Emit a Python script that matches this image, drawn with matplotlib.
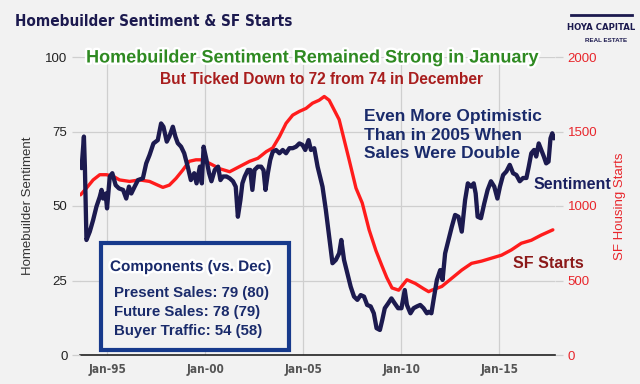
import matplotlib.pyplot as plt
import matplotlib.patheffects as pe
from matplotlib.patches import Rectangle

# Homebuilder sentiment (NAHB index)
sent_year = [1993.68, 1993.80, 1993.85, 1993.93, 1994.10, 1994.27, 1994.44, 1994.61, 1994.70, 1994.78,
             1994.91, 1994.98, 1995.12, 1995.25, 1995.42, 1995.59, 1995.80, 1995.96, 1996.10, 1996.22,
             1996.39, 1996.56, 1996.81, 1996.98, 1997.15, 1997.35, 1997.57, 1997.74, 1997.86, 1998.03,
             1998.16, 1998.34, 1998.47, 1998.59, 1998.76, 1998.92, 1999.10, 1999.26, 1999.43, 1999.55,
             1999.72, 1999.82, 1999.91, 2000.06, 2000.19, 2000.31, 2000.48, 2000.65, 2000.77, 2000.90,
             2001.08, 2001.24, 2001.41, 2001.55, 2001.66, 2001.79, 2001.89, 2002.01, 2002.17, 2002.29,
             2002.40, 2002.51, 2002.68, 2002.85, 2002.97, 2003.07, 2003.19, 2003.31, 2003.44, 2003.61,
             2003.78, 2003.95, 2004.12, 2004.29, 2004.46, 2004.63, 2004.80, 2004.96, 2005.10, 2005.27,
             2005.39, 2005.56, 2005.73, 2005.90, 2005.98, 2006.15, 2006.32, 2006.49, 2006.66, 2006.83,
             2006.94, 2007.08, 2007.25, 2007.42, 2007.59, 2007.76, 2007.93, 2008.10, 2008.26, 2008.44,
             2008.60, 2008.74, 2008.91, 2009.03, 2009.16, 2009.33, 2009.50, 2009.67, 2009.84, 2010.01,
             2010.18, 2010.29, 2010.47, 2010.63, 2010.80, 2010.97, 2011.14, 2011.31, 2011.40, 2011.54,
             2011.65, 2011.82, 2011.99, 2012.11, 2012.24, 2012.41, 2012.58, 2012.75, 2012.92, 2013.09,
             2013.26, 2013.40, 2013.57, 2013.70, 2013.80, 2013.90, 2014.07, 2014.24, 2014.41, 2014.58,
             2014.75, 2014.91, 2015.04, 2015.20, 2015.37, 2015.54, 2015.71, 2015.88, 2016.05, 2016.22,
             2016.39, 2016.51, 2016.64, 2016.78, 2016.89, 2017.02, 2017.15, 2017.28, 2017.40, 2017.52,
             2017.62, 2017.71, 2017.79]
sentiment = [62.7, 73.3, 63.0, 38.6, 41.4, 45.3, 49.8, 53.1, 55.4, 52.5,
             54.2, 49.2, 59.9, 61.0, 57.0, 55.9, 55.4, 52.5, 56.5, 54.2,
             56.5, 58.7, 59.3, 64.3, 67.1, 71.0, 72.1, 77.7, 76.6, 71.6,
             73.3, 76.6, 73.3, 71.1, 69.9, 67.7, 63.2, 58.7, 61.0, 57.6,
             63.2, 57.6, 69.9, 65.4, 61.0, 58.3, 62.1, 63.2, 58.7, 59.9,
             59.9, 59.3, 58.3, 56.5, 46.4, 52.0, 57.6, 59.9, 62.1, 62.1,
             55.4, 62.1, 63.2, 63.2, 62.0, 55.4, 61.0, 65.4, 68.2, 68.8,
             67.7, 68.8, 67.7, 69.4, 69.4, 69.9, 71.0, 70.5, 68.8, 72.1,
             68.8, 69.4, 63.2, 58.7, 56.5, 48.7, 39.7, 30.8, 31.9, 34.1,
             38.6, 31.9, 27.4, 22.9, 19.6, 18.5, 20.1, 19.6, 16.8, 16.3,
             14.0, 9.0, 8.4, 11.7, 15.7, 17.3, 19.0, 17.3, 15.7, 15.7,
             21.8, 16.8, 14.0, 15.7, 16.3, 16.8, 15.7, 14.0, 14.5, 14.0,
             18.5, 25.2, 28.5, 25.2, 34.1, 38.6, 43.0, 47.0, 46.4, 41.4,
             52.0, 57.6, 56.5, 57.6, 54.2, 46.4, 45.9, 50.9, 55.4, 58.3,
             56.5, 52.5, 56.5, 60.4, 61.6, 63.8, 61.0, 60.4, 58.3, 59.4,
             59.4, 63.2, 67.7, 68.8, 66.6, 71.0, 68.8, 66.6, 64.3, 64.9,
             72.7, 74.4, 72.7]

# Single-family housing starts (thousands, annualized, smoothed)
starts_year = [1993.63, 1993.93, 1994.27, 1994.61, 1994.95, 1995.29, 1995.62, 1996.13, 1996.64, 1997.15,
               1997.57, 1997.83, 1998.16, 1998.50, 1998.84, 1999.18, 1999.52, 1999.86, 2000.23, 2000.74,
               2001.24, 2001.75, 2002.26, 2002.68, 2003.11, 2003.44, 2003.78, 2004.12, 2004.46, 2004.80,
               2005.14, 2005.47, 2005.81, 2006.07, 2006.32, 2006.83, 2007.34, 2007.69, 2008.01, 2008.36,
               2008.71, 2009.01, 2009.26, 2009.53, 2009.87, 2010.29, 2010.72, 2011.14, 2011.40, 2011.56,
               2012.07, 2012.58, 2013.09, 2013.59, 2014.10, 2014.61, 2015.12, 2015.62, 2016.13, 2016.64,
               2017.15, 2017.74]
starts = [1075, 1120, 1175, 1210, 1210, 1200, 1175, 1165, 1175, 1165,
          1140, 1125, 1140, 1185, 1240, 1300, 1310, 1310, 1285, 1250,
          1230, 1265, 1300, 1320, 1365, 1390, 1465, 1555, 1610, 1635,
          1655, 1690, 1710, 1735, 1710, 1580, 1310, 1120, 1020, 840,
          700, 600, 520, 450, 435, 505, 480, 445, 425, 435,
          460, 515, 570, 615, 630, 650, 670, 705, 750, 770,
          805, 840]

year_ticks = [1995, 2000, 2005, 2010, 2015]
year_labels = ['Jan-95', 'Jan-00', 'Jan-05', 'Jan-10', 'Jan-15']
components = ['Present Sales: 79 (80)', 'Future Sales: 78 (79)', 'Buyer Traffic: 54 (58)']

NAVY = '#1c1a4f'
RED = '#ff1c1c'
BG = '#f2f2f2'
SANS = ['Liberation Sans', 'DejaVu Sans']
plt.rcParams['font.family'] = SANS

fig = plt.figure(figsize=(6.4, 3.84), dpi=100, facecolor=BG)
ax2 = fig.add_axes([80 / 640, 1 - 355 / 384, 475 / 640, 298 / 384])
ax2.set_facecolor(BG)
ax = ax2.twinx()
# sentiment axis in front, on the left
ax.yaxis.tick_left()
ax.yaxis.set_label_position('left')
ax2.yaxis.tick_right()
ax2.yaxis.set_label_position('right')
ax.set_zorder(ax2.get_zorder() + 1)
ax.patch.set_visible(False)

ax2.plot(starts_year, starts, color=RED, lw=2.4, solid_capstyle='round')
ax.plot(sent_year, sentiment, color=NAVY, lw=3.1, solid_joinstyle='round', solid_capstyle='round')

ax.set_xlim(1993.6, 2017.85)
ax.set_ylim(0, 100)
ax2.set_ylim(0, 2000)
ax.set_yticks([0, 25, 50, 75, 100])
ax2.set_yticks([0, 500, 1000, 1500, 2000])
ax2.set_xticks(year_ticks)
ax2.set_xticklabels(year_labels, fontweight='bold', color='#555555', fontsize=8.5,
                    family='DejaVu Sans', fontstretch='condensed')
ax2.grid(True, color='#cfcfcf', lw=0.9)
ax2.set_axisbelow(True)

for a in (ax, ax2):
    for s in ('left', 'right', 'top'):
        a.spines[s].set_visible(False)
ax.spines['bottom'].set_visible(False)
ax2.spines['bottom'].set_color('#222222')
ax2.spines['bottom'].set_linewidth(1.2)

ax.tick_params(axis='y', length=6, width=0.9, color='#cfcfcf', labelsize=9.5, labelcolor='#222222', pad=3)
ax2.tick_params(axis='y', length=6, width=0.9, color='#cfcfcf', labelsize=9.5, labelcolor='#e8262c', pad=3)
ax2.tick_params(axis='x', length=0, pad=6)

ax.set_ylabel('Homebuilder Sentiment', fontsize=9.5, color='#333333', labelpad=8)
ax2.set_ylabel('SF Housing Starts', fontsize=9.5, color='#e8262c', labelpad=12)

# titles
fig.text(15 / 640, 1 - 22 / 384, 'Homebuilder Sentiment & SF Starts', fontsize=11, fontweight='bold',
         color=NAVY, family='DejaVu Sans', fontstretch='condensed', va='center', ha='left')
glow = [pe.withStroke(linewidth=3.5, foreground='white')]
fig.text(312 / 640, 1 - 58 / 384, 'Homebuilder Sentiment Remained Strong in January', fontsize=13,
         fontweight='bold', color='#2f8a22', ha='center', va='center', path_effects=glow)
fig.text(322 / 640, 1 - 79 / 384, 'But Ticked Down to 72 from 74 in December', fontsize=11.2,
         fontweight='bold', color='#a81d1d', ha='center', va='center')

# annotations
fig.text(364 / 640, 1 - 135 / 384, 'Even More Optimistic\nThan in 2005 When\nSales Were Double', fontsize=12.5,
         fontweight='bold', color='#1a2b6b', ha='left', va='center', linespacing=1.3)
fig.text(534 / 640, 1 - 184 / 384, 'Sentiment', fontsize=11.5, fontweight='bold', color='#1a2060',
         ha='left', va='center')
fig.text(513 / 640, 1 - 263 / 384, 'SF Starts', fontsize=11.5, fontweight='bold', color='#8c1a1a',
         ha='left', va='center')

# components box
fig.patches.append(Rectangle((101 / 640, 1 - 350 / 384), 188 / 640, 107 / 384, transform=fig.transFigure,
                             facecolor=BG, edgecolor='#173a8c', lw=3, zorder=5))
fig.text(110 / 640, 1 - 267 / 384, 'Components (vs. Dec)', fontsize=11, fontweight='bold', color='#1a2b6b',
         ha='left', va='center', path_effects=glow, zorder=6)
for i, line in enumerate(components):
    fig.text(114 / 640, 1 - (293 + 19 * i) / 384, line, fontsize=10.8, fontweight='bold', color='#1a2b6b',
             ha='left', va='center', zorder=6)

# logo
fig.text(601 / 640, 1 - 27 / 384, 'HOYA CAPITAL', fontsize=6.8, fontweight='bold', color=NAVY,
         family='DejaVu Sans', fontstretch='condensed', ha='center', va='center')
fig.text(606 / 640, 1 - 40 / 384, 'REAL ESTATE', fontsize=4.5, fontweight='bold', color=NAVY,
         ha='center', va='center')
fig.add_artist(plt.Line2D([571 / 640, 632 / 640], [1 - 15 / 384, 1 - 15 / 384], color=NAVY, lw=2,
                          transform=fig.transFigure))

fig.savefig('out.png', dpi=100, facecolor=BG)
